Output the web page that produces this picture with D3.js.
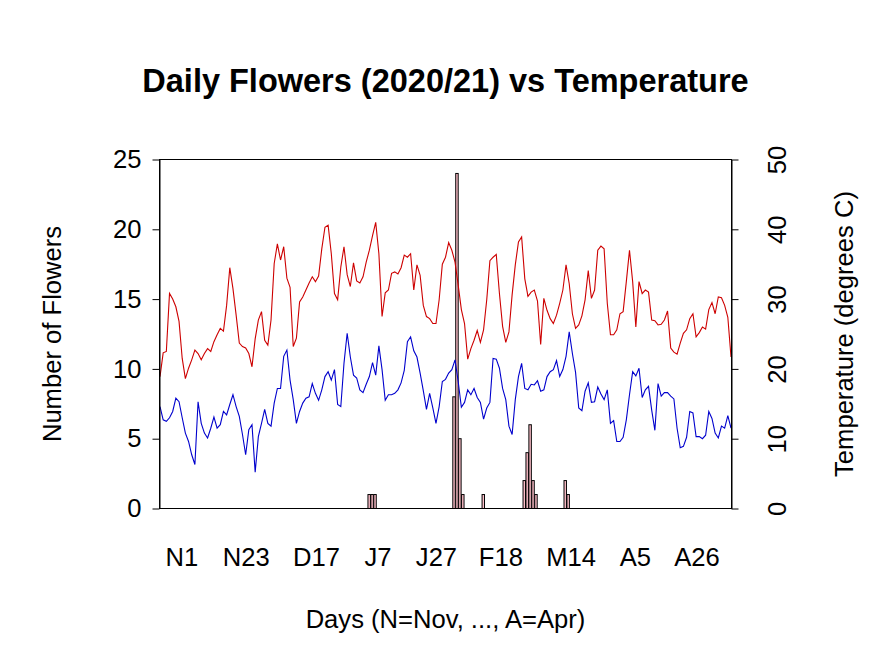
<!DOCTYPE html>
<html><head><meta charset="utf-8">
<script src="https://cdn.jsdelivr.net/npm/d3@7"></script>
<style>
body{margin:0;background:#fff}
svg{display:block}
text{font-family:"Liberation Sans",Arial,Helvetica,sans-serif;fill:#000}
</style>
</head><body>
<svg id="chart" width="891" height="668"></svg>
<script>
// ---- data (daily, 1 Nov 2020 .. 30 Apr 2021) ----
const flowers = [
 0,0,0,0,0,0,0,0,0,0,
 0,0,0,0,0,0,0,0,0,0,
 0,0,0,0,0,0,0,0,0,0,
 0,0,0,0,0,0,0,0,0,0,
 0,0,0,0,0,0,0,0,0,0,
 0,0,0,0,0,0,0,0,0,0,
 0,0,0,0,1,1,1,0,0,0,
 0,0,0,0,0,0,0,0,0,0,
 0,0,0,0,0,0,0,0,0,0,
 0,0,0,8,24,5,1,0,0,0,
 0,0,0,1,0,0,0,0,0,0,
 0,0,0,0,0,0,0,2,4,6,
 2,1,0,0,0,0,0,0,0,0,
 0,2,1,0,0,0,0,0,0,0,
 0,0,0,0,0,0,0,0,0,0,
 0,0,0,0,0,0,0,0,0,0,
 0,0,0,0,0,0,0,0,0,0,
 0,0,0,0,0,0,0,0,0,0,
 0
];
const tempMax = [
 18.9,22.3,22.5,30.8,30.0,28.9,26.8,21.5,18.6,20.1,
 21.3,22.7,22.2,21.3,22.2,22.9,22.5,23.9,24.9,25.8,
 25.4,29.1,34.5,31.5,27.7,23.7,23.2,23.0,22.2,20.3,
 24.3,27.0,28.2,24.1,23.4,27.0,35.1,37.9,35.6,37.5,
 33.0,31.7,23.2,24.4,29.6,30.3,31.3,32.3,33.2,32.5,
 33.3,37.2,40.3,40.6,36.5,30.8,29.9,34.6,37.5,33.5,
 31.8,35.2,32.6,32.3,33.2,35.3,37.0,39.1,41.0,36.5,
 27.5,30.9,31.3,33.7,33.9,33.6,34.5,36.3,36.0,36.5,
 31.3,34.9,33.4,29.1,27.5,27.2,26.5,26.5,29.9,35.0,
 36.0,38.1,37.0,35.3,32.0,28.5,26.5,21.4,22.9,24.1,
 25.5,23.8,25.6,29.9,35.5,36.0,36.4,30.8,26.1,23.8,
 25.3,30.6,34.9,38.2,38.9,32.9,30.4,31.0,31.3,29.7,
 23.5,30.1,28.4,27.2,26.5,27.7,29.4,31.3,34.9,32.2,
 27.9,25.8,26.3,27.6,29.9,34.1,30.1,31.3,37.0,37.6,
 37.2,29.4,24.9,24.9,25.6,27.9,28.2,32.5,37.0,32.5,
 26.0,32.5,30.8,31.3,31.0,27.0,26.9,26.3,26.4,27.0,
 28.3,23.0,22.4,22.1,23.7,25.1,25.6,27.2,27.9,24.6,
 25.2,26.0,25.7,28.5,29.5,27.9,30.3,30.2,29.1,27.4,
 21.7
];
const tempMin = [
 14.6,12.7,12.5,13.0,13.9,15.8,15.3,13.0,10.8,9.6,
 7.7,6.3,15.3,12.2,10.8,10.1,11.5,13.1,11.5,12.0,
 13.9,13.4,14.9,16.3,14.6,13.2,10.6,7.7,11.3,12.0,
 5.2,10.3,12.2,14.2,12.2,11.8,15.1,17.2,17.2,21.8,
 22.7,18.4,15.6,12.2,13.9,15.1,15.8,16.0,17.9,16.5,
 15.5,17.0,18.9,19.6,18.4,19.9,14.9,14.6,20.8,25.1,
 21.7,19.1,18.7,17.0,16.6,17.8,18.9,20.9,19.1,23.3,
 19.9,15.5,16.3,16.3,16.5,17.0,18.0,19.8,23.9,24.6,
 22.6,21.7,19.4,16.9,14.2,16.5,14.4,12.2,14.6,18.2,
 18.5,19.4,19.9,21.3,18.2,14.5,15.2,17.0,16.3,17.2,
 15.9,15.2,12.8,14.4,15.2,21.5,21.4,20.1,17.2,15.6,
 11.8,10.6,15.6,18.9,20.8,17.2,17.0,17.8,17.7,18.3,
 16.8,17.0,18.9,19.6,19.9,21.2,18.9,19.9,21.8,25.3,
 22.2,19.5,14.4,14.0,16.8,18.0,15.2,15.3,17.4,16.4,
 15.6,17.0,12.2,12.6,9.6,9.6,10.2,12.7,16.3,19.6,
 19.0,20.1,15.9,17.0,17.5,14.1,11.2,17.9,16.1,16.6,
 16.6,16.1,15.7,11.5,8.7,8.9,10.2,13.9,13.7,10.3,
 10.3,10.0,10.5,13.9,12.9,10.8,10.1,11.8,11.5,13.3,
 11.5
];
const xTickLabels = ["N1","N23","D17","J7","J27","F18","M14","A5","A26"];
const flowerTicks = [0,5,10,15,20,25];
const tempTicks = [0,10,20,30,40,50];

// ---- layout ----
const svg = d3.select("#chart");
const L = 159.5, R = 731.5, T = 159.5, B = 508.5;
const n = flowers.length;

// barplot coordinates: bar i spans [0.2+1.2i, 1.2+1.2i], axis extended 4%
const bLo = 0.2, bHi = 0.2 + 1.2 * n, ext = 0.04 * (bHi - bLo);
const xb = d3.scaleLinear().domain([bLo - ext, bHi + ext]).range([L, R]);
const xl = d3.scaleLinear().domain([0, n - 1]).range([160, 731]);
const yF = d3.scaleLinear().domain([0, 25]).range([B, T]);
const yT = d3.scaleLinear().domain([0, 50]).range([B, T]);

// day index of a label like "D17"
const monthStart = {N: new Date(2020,10,1), D: new Date(2020,11,1), J: new Date(2021,0,1), F: new Date(2021,1,1), M: new Date(2021,2,1), A: new Date(2021,3,1)};
const s0 = new Date(2020,10,1);
function dayIndex(lbl){
  const d = new Date(monthStart[lbl[0]]);
  d.setDate(+lbl.slice(1));
  return Math.round((d - s0) / 86400000);
}

// bars
svg.append("g").selectAll("rect")
  .data(flowers.map((v,i)=>({v,i})).filter(d=>d.v>0))
  .join("rect")
  .attr("x", d => xb(0.2 + 1.2*d.i))
  .attr("width", d => xb(1.2 + 1.2*d.i) - xb(0.2 + 1.2*d.i))
  .attr("y", d => yF(d.v))
  .attr("height", d => yF(0) - yF(d.v))
  .attr("fill", "#FFC0CB")
  .attr("stroke", "#000")
  .attr("stroke-width", 1);

// temperature lines
const line = d3.line().x((d,i)=>xl(i)).y(d=>yT(d));
svg.append("path").datum(tempMax).attr("d", line)
  .attr("fill","none").attr("stroke","#CD0000").attr("stroke-width",1.1);
svg.append("path").datum(tempMin).attr("d", line)
  .attr("fill","none").attr("stroke","#0000CD").attr("stroke-width",1.1);

// box
svg.append("rect").attr("x",L).attr("y",T).attr("width",R-L).attr("height",B-T)
  .attr("fill","none").attr("stroke","#000").attr("stroke-width",1);

const FS = "25.6px";
// left axis
const gL = svg.append("g").attr("transform",`translate(${L},0)`)
  .call(d3.axisLeft(yF).tickValues(flowerTicks).tickSize(7).tickSizeOuter(0).tickPadding(11));
gL.selectAll("text").style("font-size",FS).attr("font-family",null);
gL.selectAll("line").attr("stroke","#000");
gL.select(".domain").attr("stroke","#000");

// right axis
const gR = svg.append("g").attr("transform",`translate(${R},0)`)
  .call(d3.axisRight(yT).tickValues(tempTicks).tickSize(7).tickSizeOuter(0));
gR.selectAll("text")
  .attr("x",null).attr("dy",null)
  .attr("transform","translate(45,0) rotate(-90)")
  .attr("text-anchor","middle").attr("dy","0.36em")
  .style("font-size",FS).attr("font-family",null);
gR.selectAll("line").attr("stroke","#000");
gR.select(".domain").attr("stroke","#000");

// x labels (names under bars)
svg.append("g").selectAll("text").data(xTickLabels).join("text")
  .attr("x", d => xb(0.7 + 1.2*dayIndex(d)))
  .attr("y", 566)
  .attr("text-anchor","middle")
  .style("font-size",FS)
  .text(d=>d);

// titles
svg.append("text").attr("x",(L+R)/2).attr("y",92).attr("text-anchor","middle")
  .style("font-size","32.5px").style("font-weight","bold")
  .text("Daily Flowers (2020/21) vs Temperature");
svg.append("text").attr("x",(L+R)/2).attr("y",628).attr("text-anchor","middle")
  .style("font-size",FS).text("Days (N=Nov, ..., A=Apr)");
svg.append("text").attr("transform",`translate(52,${(T+B)/2}) rotate(-90)`)
  .attr("text-anchor","middle").attr("dy","0.36em")
  .style("font-size",FS).text("Number of Flowers");
svg.append("text").attr("transform",`translate(844,${(T+B)/2}) rotate(-90)`)
  .attr("text-anchor","middle").attr("dy","0.36em")
  .style("font-size",FS).text("Temperature (degrees C)");
</script>
</body></html>
